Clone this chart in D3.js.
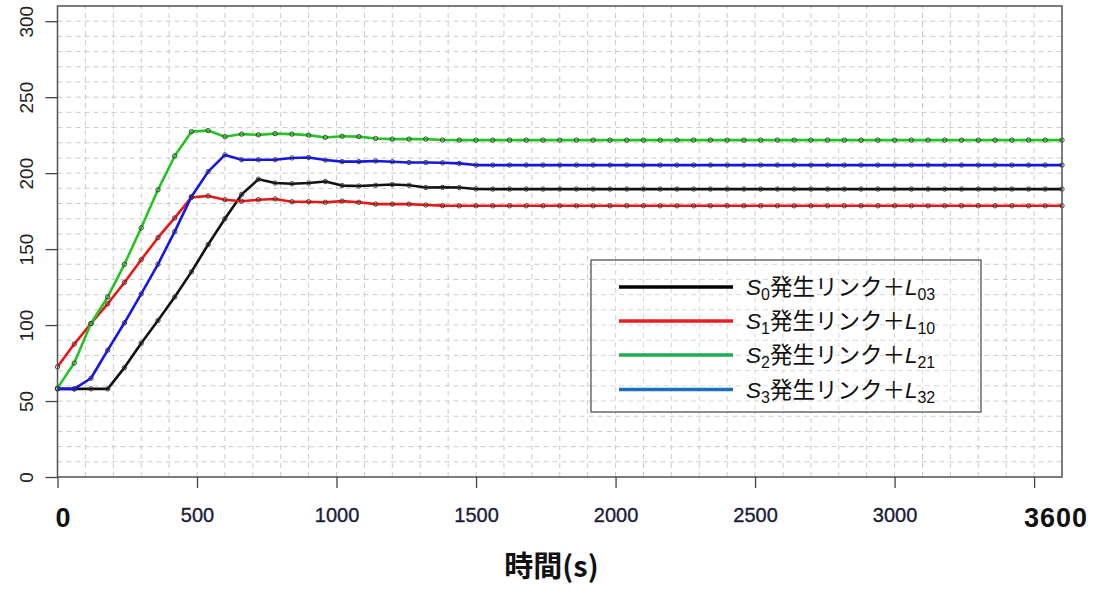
<!DOCTYPE html>
<html>
<head>
<meta charset="utf-8">
<script src="https://cdn.jsdelivr.net/npm/d3@7"></script>
<style>
  html, body { margin: 0; padding: 0; background: #fff; }
  svg { display: block; }
</style>
</head>
<body>
<svg id="chart" width="1100" height="589"></svg>
<script>
// ---- data ----
const times = [0,60,120,180,240,300,360,420,480,540,600,660,720,780,840,900,960,1020,1080,1140,1200,
  1260,1320,1380,1440,1500,1560,1620,1680,1740,1800,1860,1920,1980,2040,2100,2160,2220,2280,2340,2400,
  2460,2520,2580,2640,2700,2760,2820,2880,2940,3000,3060,3120,3180,3240,3300,3360,3420,3480,3540,3600];

const s0 = [58,58,58,58,72,88,103,118.5,135,153,170,186,196,193.5,193,193.5,194.5,191.8,191.5,192,192.5,
  192,190.5,190.6,190.5,189.6,189.5,189.5,189.5,189.5,189.5,189.5,189.5,189.5,189.5,189.5,189.5,189.5,189.5,189.5,189.5,
  189.5,189.5,189.5,189.5,189.5,189.5,189.5,189.5,189.5,189.5,189.5,189.5,189.5,189.5,189.5,189.5,189.5,189.5,189.5,189.5];

const s1 = [72.5,87.5,101,114,128,143,157.5,170.5,184,185,182.5,181.5,182.5,183,181.2,181.2,180.8,181.6,180.8,179.6,179.6,
  179.6,179,178.6,178.5,178.5,178.5,178.5,178.5,178.5,178.5,178.5,178.5,178.5,178.5,178.5,178.5,178.5,178.5,178.5,178.5,
  178.5,178.5,178.5,178.5,178.5,178.5,178.5,178.5,178.5,178.5,178.5,178.5,178.5,178.5,178.5,178.5,178.5,178.5,178.5,178.5];

const s2 = [58.5,75,101,118.5,140,164,189,211.3,227.3,228,224,225.7,225.2,226,225.7,225,223.5,224.3,224,222.8,222.4,
  222.4,222.4,221.8,221.7,221.7,221.7,221.7,221.7,221.7,221.7,221.7,221.7,221.7,221.7,221.7,221.7,221.7,221.7,221.7,221.7,
  221.7,221.7,221.7,221.7,221.7,221.7,221.7,221.7,221.7,221.7,221.7,221.7,221.7,221.7,221.7,221.7,221.7,221.7,221.7,221.7];

const s3 = [58,58,65,83.5,101.5,120.5,140,161.5,184.5,201,212,208.8,208.8,208.8,210,210.3,208.6,207.6,207.6,208,207.5,
  207,207,206.8,206.4,205.3,205.3,205.3,205.3,205.3,205.3,205.3,205.3,205.3,205.3,205.3,205.3,205.3,205.3,205.3,205.3,
  205.3,205.3,205.3,205.3,205.3,205.3,205.3,205.3,205.3,205.3,205.3,205.3,205.3,205.3,205.3,205.3,205.3,205.3,205.3,205.3];

const seriesNames = [
  {S: "0", L: "03"},
  {S: "1", L: "10"},
  {S: "2", L: "21"},
  {S: "3", L: "32"}
];
const xTicks = [0,500,1000,1500,2000,2500,3000,3500];
const xTickLabels = ["","500","1000","1500","2000","2500","3000",""];
const xBigLabels = [{v: 0, t: "0"}, {v: 3600, t: "3600"}];
const yTicks = [0,50,100,150,200,250,300];
const xTitle = "時間(s)";

// ---- styles ----
const lineColors = ["#111111", "#ee1515", "#25c425", "#1414ee"];
const legendColors = ["#000000", "#ee1c24", "#1aaf54", "#1f6fbf"];

const svg = d3.select("#chart");
const L = 57.5, R = 1062, T = 6, B = 477;
const x = d3.scaleLinear().domain([0, 3600]).range([L, R]);
const y = d3.scaleLinear().domain([0, 310]).range([B, T]);

// grid
const grid = svg.append("g").attr("stroke", "#cbcbcb").attr("stroke-width", 1).attr("stroke-dasharray", "5,4").attr("fill", "none");
grid.selectAll("line.v").data(d3.range(100, 3600, 100)).join("line")
  .attr("x1", d => x(d)).attr("x2", d => x(d)).attr("y1", B).attr("y2", T);
grid.selectAll("line.h").data(d3.range(10, 310, 10)).join("line")
  .attr("y1", d => y(d)).attr("y2", d => y(d)).attr("x1", L).attr("x2", R);

// series
const all = [s0, s1, s2, s3];
const line = d3.line().x((d, i) => x(times[i])).y(d => y(d));
all.forEach((s, k) => {
  svg.append("path").datum(s).attr("d", line)
    .attr("fill", "none").attr("stroke", lineColors[k]).attr("stroke-width", 2.6)
    .attr("stroke-linejoin", "round");
  svg.append("g").selectAll("circle").data(s).join("circle")
    .attr("cx", (d, i) => x(times[i])).attr("cy", d => y(d)).attr("r", 2.2)
    .attr("fill", "none").attr("stroke", "#333").attr("stroke-width", 0.9);
});

// frame
svg.append("rect").attr("x", L).attr("y", T).attr("width", R - L).attr("height", B - T)
  .attr("fill", "none").attr("stroke", "#505050").attr("stroke-width", 1.5);

// axes
const xAxis = svg.append("g").attr("transform", `translate(0,${B})`)
  .call(d3.axisBottom(x).tickValues(xTicks).tickSize(11).tickSizeOuter(0).tickFormat((d, i) => xTickLabels[i]));
xAxis.select(".domain").remove();
xAxis.selectAll(".tick line").attr("stroke", "#444").attr("stroke-width", 1.3);
xAxis.selectAll(".tick text").attr("font-family", "Liberation Sans, Arial, sans-serif")
  .attr("font-size", 20).attr("fill", "#1b1b3a").attr("stroke", "#1b1b3a").attr("stroke-width", 0.35)
  .attr("y", 45).attr("dy", 0);

svg.append("g").selectAll("text").data(xBigLabels).join("text")
  .attr("x", d => x(d.v) + (d.v === 0 ? 6 : -6)).attr("y", 527)
  .attr("text-anchor", "middle").attr("font-family", "Liberation Sans, Arial, sans-serif")
  .attr("font-weight", "bold").attr("font-size", 27).attr("letter-spacing", 1).attr("fill", "#111")
  .text(d => d.t);

const yAxis = svg.append("g").attr("transform", `translate(${L},0)`)
  .call(d3.axisLeft(y).tickValues(yTicks).tickSize(12).tickSizeOuter(0).tickFormat(d3.format("d")));
yAxis.select(".domain").remove();
yAxis.selectAll(".tick line").attr("stroke", "#444").attr("stroke-width", 1.3);
yAxis.selectAll(".tick text").attr("font-family", "Liberation Sans, Arial, sans-serif")
  .attr("font-size", 19).attr("fill", "#222")
  .attr("transform", "rotate(-90)").attr("x", 0).attr("y", -24.5).attr("dy", 0)
  .attr("text-anchor", "middle");

// x title
svg.append("text").attr("x", 551.5).attr("y", 577).attr("text-anchor", "middle")
  .attr("font-family", "Noto Sans CJK JP, sans-serif").attr("font-weight", "bold").attr("font-size", 29)
  .attr("fill", "#111").text(xTitle);

// legend
const lg = svg.append("g");
lg.append("rect").attr("x", 591).attr("y", 260).attr("width", 390).attr("height", 152)
  .attr("fill", "#fff").attr("stroke", "#444").attr("stroke-width", 1.2);
// dashed grid shows through the legend in the reference
lg.append("g").attr("stroke", "#d8d8d8").attr("stroke-dasharray", "5,4")
  .selectAll("line").data(d3.range(100, 3600, 100).filter(d => x(d) > 591 && x(d) < 981)).join("line")
  .attr("x1", d => x(d)).attr("x2", d => x(d)).attr("y1", 261).attr("y2", 411);
lg.append("g").attr("stroke", "#d8d8d8").attr("stroke-dasharray", "5,4")
  .selectAll("line").data(d3.range(10, 310, 10).filter(d => y(d) > 260 && y(d) < 412)).join("line")
  .attr("y1", d => y(d)).attr("y2", d => y(d)).attr("x1", 592).attr("x2", 980);

const rowY = [287, 321, 355, 389.5];
seriesNames.forEach((n, k) => {
  lg.append("line").attr("x1", 619).attr("x2", 733).attr("y1", rowY[k]).attr("y2", rowY[k])
    .attr("stroke", legendColors[k]).attr("stroke-width", 3.5);
  const t = lg.append("text").attr("x", 746).attr("y", rowY[k] + 8)
    .attr("font-family", "Liberation Sans, Noto Sans CJK JP, sans-serif").attr("font-size", 22.5).attr("fill", "#111");
  t.append("tspan").attr("font-style", "italic").text("S");
  t.append("tspan").attr("font-size", 16).attr("dy", 5).text(n.S);
  t.append("tspan").attr("dy", -5).attr("font-family", "Noto Sans CJK JP, sans-serif").text("発生リンク＋");
  t.append("tspan").attr("font-style", "italic").text("L");
  t.append("tspan").attr("font-size", 16).attr("dy", 5).text(n.L);
});
</script>
</body>
</html>
